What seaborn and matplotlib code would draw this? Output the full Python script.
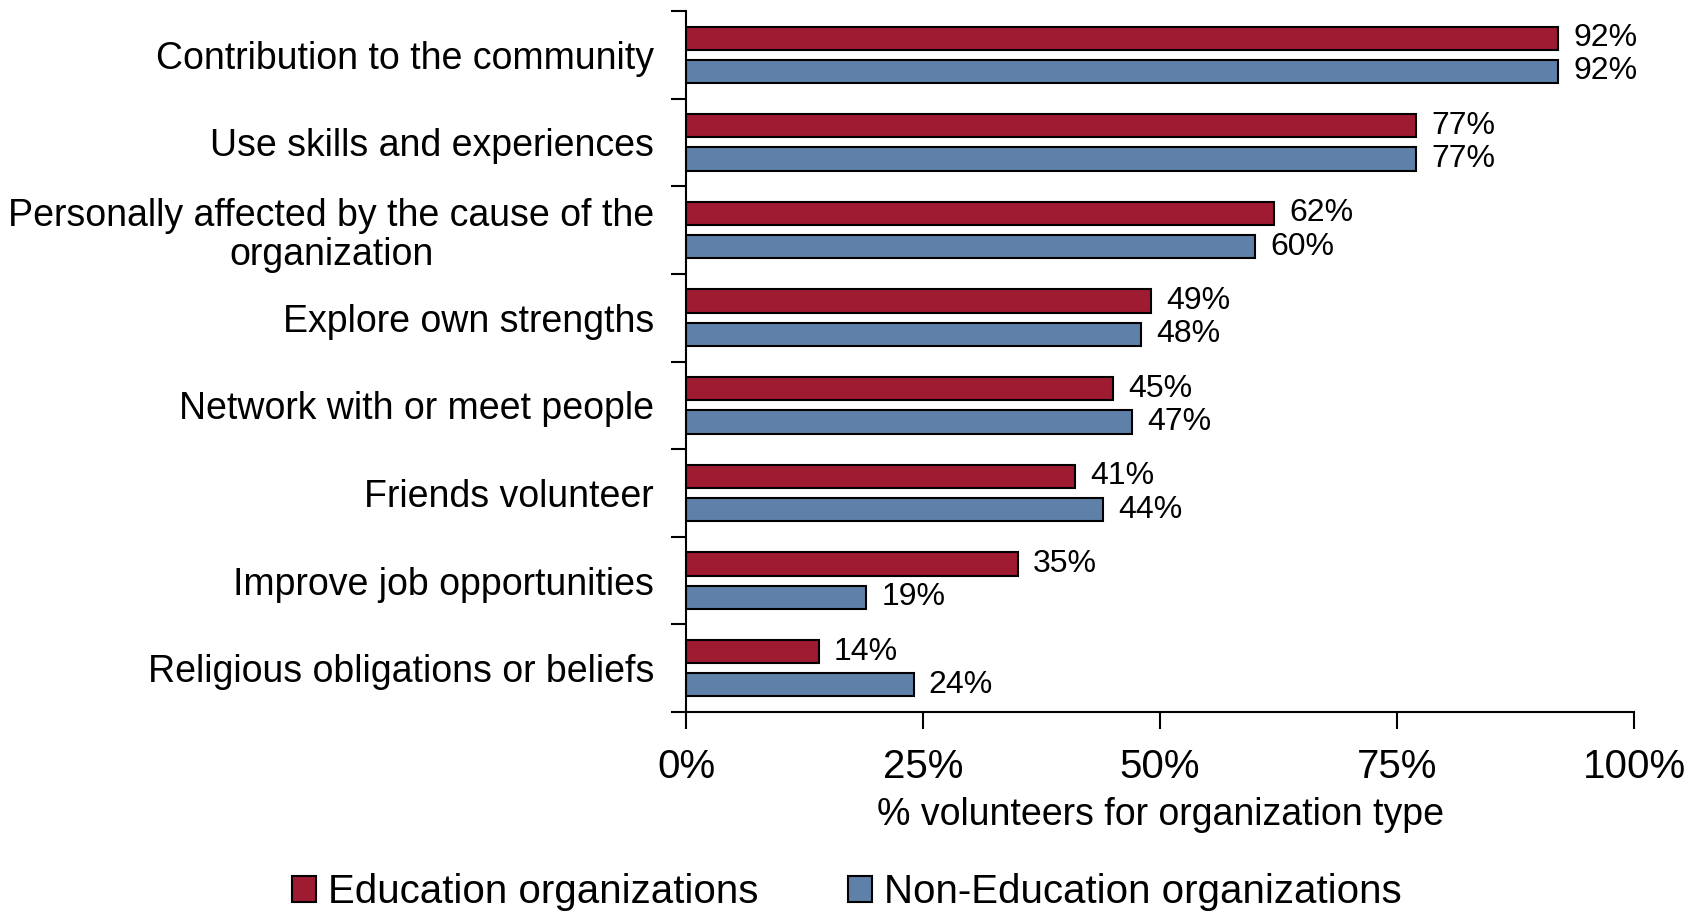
import pandas as pd
import matplotlib.pyplot as plt
import seaborn as sns

# data
reasons = [
    "Contribution to the community",
    "Use skills and experiences",
    "Personally affected by the cause of the\norganization",
    "Explore own strengths",
    "Network with or meet people",
    "Friends volunteer",
    "Improve job opportunities",
    "Religious obligations or beliefs",
]
education = [92, 77, 62, 49, 45, 41, 35, 14]
non_education = [92, 77, 60, 48, 47, 44, 19, 24]
groups = ["Education organizations", "Non-Education organizations"]
xticks = [0, 25, 50, 75, 100]

df = pd.DataFrame({
    "reason": reasons * 2,
    "value": education + non_education,
    "group": [groups[0]] * len(reasons) + [groups[1]] * len(reasons),
})

sns.set_style("white")
plt.rcParams["font.family"] = ["Liberation Sans", "DejaVu Sans"]
plt.rcParams["text.color"] = "black"
plt.rcParams["xtick.color"] = "black"
plt.rcParams["ytick.color"] = "black"
plt.rcParams["axes.labelcolor"] = "black"

color_edu = "#9E1B32"
color_non = "#5F80A8"

fig = plt.figure(figsize=(17.04, 9.18), dpi=100)
ax = fig.add_axes([0.4026, 0.2244, 0.5564, 0.7636])

sns.barplot(
    data=df, y="reason", x="value", hue="group",
    palette=[color_edu, color_non], saturation=1, width=0.76, gap=0.3,
    edgecolor="black", linewidth=1.5, ax=ax, legend=True,
)

for cont in ax.containers:
    ax.bar_label(cont, labels=[f"{v:.0f}%" for v in cont.datavalues],
                 padding=11, fontsize=23, color="black")

ax.set_xlim(0, 100)
ax.set_ylim(len(reasons) - 0.5, -0.5)
ax.set_xticks(xticks)
ax.set_xticklabels([f"{t}%" for t in xticks], fontsize=29)
ax.tick_params(axis="x", direction="out", length=12, width=1.5, pad=14, bottom=True)

ax.set_yticks(range(len(reasons)))
ax.set_yticklabels(reasons, fontsize=27, multialignment="center", linespacing=1.1)
ax.tick_params(axis="y", length=0, pad=23)
ax.set_yticks([i - 0.5 for i in range(len(reasons) + 1)], minor=True)
ax.tick_params(axis="y", which="minor", direction="out", length=11, width=1.5, left=True)

ax.set_ylabel("")
ax.set_xlabel("% volunteers for organization type", fontsize=27, labelpad=8)

for side in ["top", "right"]:
    ax.spines[side].set_visible(False)
for side in ["left", "bottom"]:
    ax.spines[side].set_color("black")
    ax.spines[side].set_linewidth(1.5)

ax.legend(loc="center", bbox_to_anchor=(0.497, 0.028), bbox_transform=fig.transFigure,
          ncol=2, frameon=False, handlelength=0.6, handleheight=0.6,
          handletextpad=0.3, columnspacing=2.2, prop={"size": 29})

fig.savefig("out.png", dpi=100)
